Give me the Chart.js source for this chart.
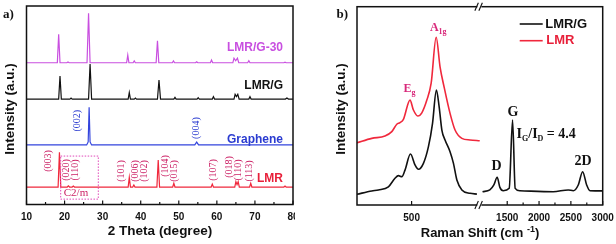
<!DOCTYPE html>
<html>
<head>
<meta charset="utf-8">
<script src="https://cdn.jsdelivr.net/npm/chart.js@4.4.1/dist/chart.umd.min.js"></script>
<style>
  html, body { margin: 0; padding: 0; background: #fff; }
  #wrap { position: relative; width: 616px; height: 244px; overflow: hidden; background: #fff; }
  #boxA { position: absolute; left: 0; top: 0; width: 295px; height: 244px; }
  #boxB { position: absolute; left: 310px; top: 0; width: 306px; height: 244px; }
</style>
</head>
<body>
<div id="wrap">
  <div id="boxA"><canvas id="xrd" width="295" height="244"></canvas></div>
  <div id="boxB"><canvas id="raman" width="306" height="244"></canvas></div>
</div>
<script>
// ---- a) XRD patterns, [2theta, intensity (offset, a.u.)] ----
var xrd_lmrg30 = [[10,71.4],[18.1,71.4],[18.45,85.7],[18.8,71.4],[20.6,71.4],[20.9,71.8],[21.2,71.4],[25.9,71.4],[26.3,96.3],[26.7,71.4],
  [36.3,71.4],[36.6,75.3],[36.9,71.4],[38.0,71.4],[38.3,72.3],[38.6,71.4],[44.05,71.4],[44.4,82.5],[44.75,71.4],[48.3,71.4],[48.6,72.3],[48.9,71.4],
  [54.4,71.4],[54.7,71.9],[55.0,71.4],[58.3,71.4],[58.6,72.8],[58.9,71.4],[64.2,71.4],[64.5,73.7],[64.95,72.4],[65.4,73.7],[65.75,71.4],
  [68.1,71.4],[68.4,72.4],[68.7,71.4],[77.6,71.4],[77.9,71.7],[78.2,71.4],[80,71.4]];
var xrd_lmrg = [[10,53.1],[18.45,53.1],[18.8,64.7],[19.15,53.1],[21.4,53.1],[21.7,53.6],[22.0,53.1],[26.3,53.1],[26.7,70.8],[27.1,53.1],
  [36.7,53.1],[37.0,56.4],[37.3,53.1],[38.3,53.1],[38.6,53.6],[38.9,53.1],[44.4,53.1],[44.8,62.7],[45.2,53.1],[48.7,53.1],[49.0,54.0],[49.3,53.1],
  [54.8,53.1],[55.1,53.8],[55.4,53.1],[58.8,53.1],[59.1,54.3],[59.4,53.1],[64.5,53.1],[64.8,55.5],[65.15,54.4],[65.5,55.5],[65.85,53.1],
  [68.4,53.1],[68.7,54.3],[69.0,53.1],[78.0,53.1],[78.4,53.7],[78.8,53.1],[80,53.1]];
var xrd_graphene = [[10,30.0],[25.8,30.0],[26.2,31.5],[26.45,49.0],[26.7,31.5],[27.1,30.0],[54.2,30.0],[54.7,31.4],[55.2,30.0],[80,30.0]];
var xrd_lmr = [[10,8.8],[18.3,8.8],[18.65,26.3],[19.0,8.8],[20.7,8.8],[21.0,9.4],[21.3,8.8],[22.0,8.8],[22.3,9.3],[22.6,8.8],
  [36.7,8.8],[37.0,13.7],[37.3,8.8],[37.9,8.8],[38.2,9.8],[38.5,8.8],[44.25,8.8],[44.6,22.4],[44.95,8.8],[48.4,8.8],[48.7,10.7],[49.0,8.8],
  [58.5,8.8],[58.8,10.3],[59.1,8.8],[64.7,8.8],[65.0,11.5],[65.3,10.0],[65.6,11.5],[65.9,8.8],[68.6,8.8],[68.9,10.7],[69.2,8.8],
  [77.6,8.8],[77.9,9.3],[78.2,8.8],[80,8.8]];
var xrdTicks = [10, 20, 30, 40, 50, 60, 70, 80];

// hkl labels: [text, 2theta, y]
var hklLMR = [['(003)',15.73,21.9],['(020)',20.56,17.4],['(110)',22.74,17.4],['(101)',35.0,16.9],['(006)',38.5,16.9],['(102)',40.86,16.9],
  ['(104)',46.38,19.4],['(015)',48.74,16.9],['(107)',59.07,17.4],['(018)',63.19,18.9],['(110)',65.63,17.4],['(113)',68.45,16.9]];
var hklGraphene = [['(002)',23.34,42.2],['(004)',54.71,38.5]];

// ---- b) Raman spectra, [Raman shift (cm-1), intensity (a.u.)] ----
var raman_lmr = [[260,31.4],[325,33.6],[383,34.8],[413,37.0],[435,40.7],[449,41.5],[464,43.2],[493,52.9],[508,47.9],[527,44.9],[545,46.5],
  [567,52.9],[586,61.4],[608,84.6],[625,69.7],[644,58.9],[669,46.2],[691,37.8],[721,33.6],[757,32.8],[800,32.4]];
var raman_lmrg_low = [[260,5.4],[325,7.1],[354,7.6],[398,9.2],[427,13.5],[442,14.8],[457,14.3],[471,17.6],[495,25.7],[515,20.2],[530,18.0],
  [552,21.0],[574,29.4],[592,41.2],[609,58.0],[621,49.6],[633,37.8],[647,32.8],[669,26.9],[684,21.0],[699,12.6],[721,7.6],[757,5.9],[787,5.5]];
var raman_lmrg_high = [[1112,6.7],[1227,7.6],[1290,10.1],[1342,14.0],[1385,8.9],[1437,7.2],[1531,8.4],[1584,42.9],[1625,8.4],[1699,7.2],
  [2223,6.7],[2459,7.6],[2538,7.2],[2616,10.1],[2685,16.8],[2748,10.1],[2800,7.2],[3000,7.1]];
var ramanTicksLow = [500];
var ramanTicksHigh = [1500, 2000, 2500, 3000];

var SANS = '"Liberation Sans", Arial, sans-serif';
var SERIF = '"Liberation Serif", "Times New Roman", serif';

Chart.defaults.font.family = SANS;
Chart.defaults.color = '#111';

function line(ctx, x1, y1, x2, y2) {
  ctx.beginPath(); ctx.moveTo(x1, y1); ctx.lineTo(x2, y2); ctx.stroke();
}

// draws text pieces one after another (for sub/superscripts)
function drawRich(ctx, x, y, parts, align) {
  var w = 0, i;
  for (i = 0; i < parts.length; i++) { ctx.font = parts[i].f; w += ctx.measureText(parts[i].t).width; }
  var cx = align === 'center' ? x - w / 2 : (align === 'right' ? x - w : x);
  ctx.textAlign = 'left';
  ctx.textBaseline = 'alphabetic';
  for (i = 0; i < parts.length; i++) {
    ctx.font = parts[i].f;
    ctx.fillText(parts[i].t, cx, y + (parts[i].dy || 0));
    cx += ctx.measureText(parts[i].t).width;
  }
}

function text(ctx, t, x, y, font, color, align, rot) {
  ctx.save();
  ctx.translate(x, y);
  if (rot) ctx.rotate(rot);
  ctx.font = font;
  ctx.fillStyle = color;
  ctx.textAlign = align || 'center';
  ctx.textBaseline = 'middle';
  ctx.fillText(t, 0, 0);
  ctx.restore();
}

// fixed axis height, and no extra room for labels hanging over the ends
function fixHeight(h) {
  return function(scale) {
    scale.height = h;
    scale.paddingLeft = 0;
    scale.paddingRight = 0;
  };
}

function setTicks(list) {
  return function(scale) { scale.ticks = list.map(function(v) { return {value: v}; }); };
}

function plainLabel(v) { return String(v); }

// ---------------- panel a ----------------
var xrdDecor = {
  id: 'xrdDecor',
  afterDraw: function(chart) {
    var ctx = chart.ctx, a = chart.chartArea, xs = chart.scales.x, ys = chart.scales.y;
    ctx.save();
    ctx.strokeStyle = '#111';
    ctx.lineWidth = 1.5;
    ctx.strokeRect(a.left, a.top, a.right - a.left, a.bottom - a.top);

    // inward ticks, minor half way
    ctx.lineWidth = 1.2;
    for (var i = 0; i < xrdTicks.length; i++) {
      var px = xs.getPixelForValue(xrdTicks[i]);
      line(ctx, px, a.bottom, px, a.bottom - 4);
      if (i < xrdTicks.length - 1) {
        var pm = xs.getPixelForValue((xrdTicks[i] + xrdTicks[i + 1]) / 2);
        line(ctx, pm, a.bottom, pm, a.bottom - 2.5);
      }
    }

    // C2/m dotted box
    ctx.strokeStyle = '#e048b8';
    ctx.lineWidth = 1;
    ctx.setLineDash([1.5, 1.5]);
    var bx1 = xs.getPixelForValue(18.98), bx2 = xs.getPixelForValue(28.86);
    var by1 = ys.getPixelForValue(24.4), by2 = ys.getPixelForValue(2.7);
    ctx.strokeRect(bx1, by1, bx2 - bx1, by2 - by1);
    ctx.setLineDash([]);
    text(ctx, 'C2/m', xs.getPixelForValue(23.0), ys.getPixelForValue(5.8), '11px ' + SERIF, '#cc2266', 'center');

    hklLMR.forEach(function(h) {
      text(ctx, h[0], xs.getPixelForValue(h[1]), ys.getPixelForValue(h[2]), '10px ' + SERIF, '#cc2266', 'center', -Math.PI / 2);
    });
    hklGraphene.forEach(function(h) {
      text(ctx, h[0], xs.getPixelForValue(h[1]), ys.getPixelForValue(h[2]), '10px ' + SERIF, '#2a3bd0', 'center', -Math.PI / 2);
    });

    // series names
    var lx = xs.getPixelForValue(77.38);
    text(ctx, 'LMR/G-30', lx, ys.getPixelForValue(79.0), 'bold 12px ' + SANS, '#c84fe0', 'right');
    text(ctx, 'LMR/G', lx, ys.getPixelForValue(59.7), 'bold 12px ' + SANS, '#111', 'right');
    text(ctx, 'Graphene', lx, ys.getPixelForValue(32.8), 'bold 12px ' + SANS, '#2a3bd0', 'right');
    text(ctx, 'LMR', lx, ys.getPixelForValue(12.8), 'bold 12px ' + SANS, '#e8203a', 'right');

    // panel letter and axis titles
    text(ctx, 'a)', 3, 15, 'bold 13px ' + SERIF, '#111', 'left');
    text(ctx, 'Intensity (a.u.)', 10, 109, 'bold 13.5px ' + SANS, '#111', 'center', -Math.PI / 2);
    text(ctx, '2 Theta (degree)', 160, 231, 'bold 13.5px ' + SANS, '#111', 'center');
    ctx.restore();
  }
};

function xrdSet(label, data, color) {
  return { label: label, data: data, borderColor: color, borderWidth: 1.2, pointRadius: 0, tension: 0, fill: false };
}

new Chart(document.getElementById('xrd'), {
  type: 'line',
  data: {
    datasets: [
      xrdSet('LMR/G-30', xrd_lmrg30, '#c94fe0'),
      xrdSet('LMR/G', xrd_lmrg, '#111111'),
      xrdSet('Graphene', xrd_graphene, '#3344dd'),
      xrdSet('LMR', xrd_lmr, '#f0283c')
    ]
  },
  options: {
    responsive: false,
    animation: false,
    devicePixelRatio: 1,
    layout: { padding: { left: 26.5, right: 2, top: 6, bottom: 0 } },
    plugins: { legend: { display: false }, tooltip: { enabled: false } },
    scales: {
      x: {
        type: 'linear', min: 10, max: 80,
        afterBuildTicks: setTicks(xrdTicks),
        afterFit: fixHeight(39.5),
        grid: { display: false, drawTicks: false },
        border: { display: false },
        ticks: { autoSkip: false, maxRotation: 0, padding: 7, color: '#111', font: { size: 10, weight: 'bold' }, callback: plainLabel }
      },
      y: { display: false, min: 0, max: 100 }
    }
  },
  plugins: [xrdDecor]
});

// ---------------- panel b ----------------
var ramanDecor = {
  id: 'ramanDecor',
  afterDraw: function(chart) {
    var ctx = chart.ctx, a = chart.chartArea;
    var x1 = chart.scales.x1, x2 = chart.scales.x2, ys = chart.scales.y;
    ctx.save();
    ctx.strokeStyle = '#111';
    ctx.lineWidth = 1.5;
    ctx.strokeRect(a.left, a.top, a.right - a.left, a.bottom - a.top);

    ctx.lineWidth = 1.2;
    ramanTicksLow.forEach(function(v) {
      var px = x1.getPixelForValue(v);
      line(ctx, px, a.bottom, px, a.bottom - 4);
    });
    for (var i = 0; i < ramanTicksHigh.length; i++) {
      var px = x2.getPixelForValue(ramanTicksHigh[i]);
      line(ctx, px, a.bottom, px, a.bottom - 4);
      if (i < ramanTicksHigh.length - 1) {
        var pm = x2.getPixelForValue((ramanTicksHigh[i] + ramanTicksHigh[i + 1]) / 2);
        line(ctx, pm, a.bottom, pm, a.bottom - 2.5);
      }
    }

    // axis break marks
    var bx = x1.right;
    [a.top, a.bottom].forEach(function(y) {
      ctx.fillStyle = '#fff';
      ctx.fillRect(bx - 2.5, y - 1.5, 4, 3);
      ctx.strokeStyle = '#111';
      ctx.lineWidth = 1.1;
      line(ctx, bx - 5, y + 4, bx - 1.5, y - 4);
      line(ctx, bx - 1, y + 4, bx + 2.5, y - 4);
    });

    // legend
    var lx = a.right - 83, ly1 = a.top + 17.3, ly2 = a.top + 34;
    ctx.lineWidth = 1.6;
    ctx.strokeStyle = '#111';
    line(ctx, lx, ly1, lx + 23, ly1);
    ctx.strokeStyle = '#f0283c';
    line(ctx, lx, ly2, lx + 23, ly2);
    text(ctx, 'LMR/G', lx + 25.5, ly1, 'bold 13px ' + SANS, '#111', 'left');
    text(ctx, 'LMR', lx + 26.5, ly2, 'bold 13px ' + SANS, '#e8203a', 'left');

    // peak names
    ctx.fillStyle = '#d8287a';
    drawRich(ctx, x1.getPixelForValue(617), ys.getPixelForValue(89.9) + 4.5,
      [{t: 'A', f: 'bold 12px ' + SERIF}, {t: '1g', f: 'bold 8px ' + SERIF, dy: 3}], 'center');
    drawRich(ctx, x1.getPixelForValue(491), ys.getPixelForValue(59.5) + 4.5,
      [{t: 'E', f: 'bold 12px ' + SERIF}, {t: 'g', f: 'bold 8px ' + SERIF, dy: 3}], 'center');
    ctx.fillStyle = '#111';
    text(ctx, 'D', x2.getPixelForValue(1333), ys.getPixelForValue(19.3), 'bold 14px ' + SERIF, '#111', 'center');
    text(ctx, 'G', x2.getPixelForValue(1589), ys.getPixelForValue(46.7), 'bold 14px ' + SERIF, '#111', 'center');
    text(ctx, '2D', x2.getPixelForValue(2690), ys.getPixelForValue(21.8), 'bold 14px ' + SERIF, '#111', 'center');
    drawRich(ctx, x2.getPixelForValue(1647), ys.getPixelForValue(36.2) + 5,
      [{t: 'I', f: 'bold 14px ' + SERIF}, {t: 'G', f: 'bold 8px ' + SERIF, dy: 3},
       {t: '/I', f: 'bold 14px ' + SERIF}, {t: 'D', f: 'bold 8px ' + SERIF, dy: 3},
       {t: ' = 4.4', f: 'bold 14px ' + SERIF}], 'left');

    text(ctx, 'b)', 26.5, 15, 'bold 13px ' + SERIF, '#111', 'left');
    text(ctx, 'Intensity (a.u.)', 31.7, 109, 'bold 13.5px ' + SANS, '#111', 'center', -Math.PI / 2);
    drawRich(ctx, 170, 237, [{t: 'Raman Shift (cm ', f: 'bold 13px ' + SANS},
      {t: '-1', f: 'bold 9px ' + SANS, dy: -5}, {t: ')', f: 'bold 13px ' + SANS}], 'center');
    ctx.restore();
  }
};

function ramanSet(label, data, color, axis) {
  return { label: label, data: data, xAxisID: axis, borderColor: color, borderWidth: 1.6, pointRadius: 0,
    cubicInterpolationMode: 'monotone', fill: false };
}

var tickFont = { size: 10, weight: 'bold' };

new Chart(document.getElementById('raman'), {
  type: 'line',
  data: {
    datasets: [
      ramanSet('LMR', raman_lmr, '#f0283c', 'x1'),
      ramanSet('LMR/G', raman_lmrg_low, '#111111', 'x1'),
      ramanSet('LMR/G', raman_lmrg_high, '#111111', 'x2')
    ]
  },
  options: {
    responsive: false,
    animation: false,
    devicePixelRatio: 1,
    layout: { padding: { left: 47, right: 13.3, top: 6.7, bottom: 0 } },
    plugins: { legend: { display: false }, tooltip: { enabled: false } },
    scales: {
      x1: {
        type: 'linear', position: 'bottom', stack: 'shift', stackWeight: 1, min: 260, max: 800,
        afterBuildTicks: setTicks(ramanTicksLow),
        afterFit: fixHeight(39),
        grid: { display: false, drawTicks: false },
        border: { display: false },
        ticks: { autoSkip: false, maxRotation: 0, padding: 7, color: '#111', font: tickFont, callback: plainLabel }
      },
      x2: {
        type: 'linear', position: 'bottom', stack: 'shift', stackWeight: 1, min: 1070, max: 3000,
        afterBuildTicks: setTicks(ramanTicksHigh),
        afterFit: fixHeight(39),
        grid: { display: false, drawTicks: false },
        border: { display: false },
        ticks: { autoSkip: false, maxRotation: 0, padding: 7, color: '#111', font: tickFont, callback: plainLabel }
      },
      y: { display: false, min: 0, max: 100 }
    }
  },
  plugins: [ramanDecor]
});
</script>
</body>
</html>
